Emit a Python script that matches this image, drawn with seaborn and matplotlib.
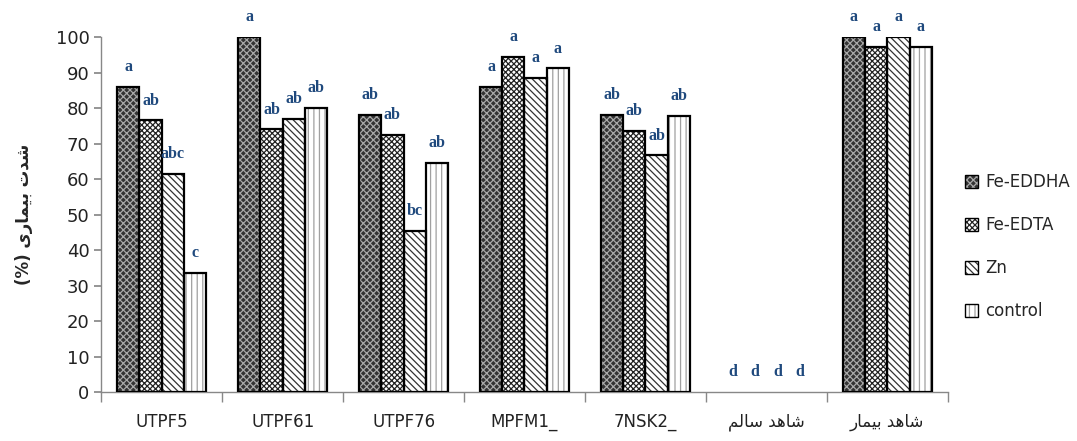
import pandas as pd
import matplotlib
matplotlib.use('Agg')
import matplotlib.pyplot as plt
from matplotlib.patches import Rectangle, Patch
import seaborn as sns

isolates = ['UTPF5', 'UTPF61', 'UTPF76', 'MPFM1_', '7NSK2_', 'شاهد سالم', 'شاهد بیمار']
treatments = ['Fe-EDDHA', 'Fe-EDTA', 'Zn', 'control']
fe_eddha = [86, 100, 78, 86, 78, 0, 100]
fe_edta = [76.5, 74, 72.4, 94.4, 73.5, 0, 97.3]
zn = [61.5, 77, 45.5, 88.5, 66.7, 0, 100]
control = [33.5, 80, 64.5, 91.2, 77.7, 0, 97.3]
letters_eddha = ['a', 'a', 'ab', 'a', 'ab', 'd', 'a']
letters_edta = ['ab', 'ab', 'ab', 'a', 'ab', 'd', 'a']
letters_zn = ['abc', 'ab', 'bc', 'a', 'ab', 'd', 'a']
letters_control = ['c', 'ab', 'ab', 'a', 'ab', 'd', 'a']
y_label = 'شدت بیماری'

# formas de apresentação árabe (matplotlib não faz shaping nem bidi)
FORMS = {  # isolada, final, inicial, medial
    'ش': ('\uFEB5', '\uFEB6', '\uFEB7', '\uFEB8'),
    'ا': ('\uFE8D', '\uFE8E', None, None),
    'ه': ('\uFEE9', '\uFEEA', '\uFEEB', '\uFEEC'),
    'د': ('\uFEA9', '\uFEAA', None, None),
    'س': ('\uFEB1', '\uFEB2', '\uFEB3', '\uFEB4'),
    'ل': ('\uFEDD', '\uFEDE', '\uFEDF', '\uFEE0'),
    'م': ('\uFEE1', '\uFEE2', '\uFEE3', '\uFEE4'),
    'ب': ('\uFE8F', '\uFE90', '\uFE91', '\uFE92'),
    'ی': ('\uFEEF', '\uFEF0', '\uFEF3', '\uFEF4'),
    'ر': ('\uFEAD', '\uFEAE', None, None),
    'ت': ('\uFE95', '\uFE96', '\uFE97', '\uFE98'),
}


def shape(txt):
    if not any(c in FORMS for c in txt):
        return txt
    out = []
    for i, c in enumerate(txt):
        if c not in FORMS:
            out.append(c)
            continue
        prev = txt[i - 1] if i > 0 else ''
        nxt = txt[i + 1] if i + 1 < len(txt) else ''
        jp = prev in FORMS and FORMS[prev][2] is not None
        jn = nxt in FORMS and FORMS[c][2] is not None
        f = FORMS[c]
        if jp and jn:
            out.append(f[3])
        elif jp:
            out.append(f[1])
        elif jn:
            out.append(f[2])
        else:
            out.append(f[0])
    return ''.join(out)[::-1]


df = pd.DataFrame({
    'isolate': isolates * 4,
    'treatment': [t for t in treatments for _ in isolates],
    'severity': fe_eddha + fe_edta + zn + control,
})
letters = [letters_eddha, letters_edta, letters_zn, letters_control]

faces = {'Fe-EDDHA': '#333333', 'Fe-EDTA': '#ffffff', 'Zn': '#ffffff', 'control': '#ffffff'}
hatches = {'Fe-EDDHA': 'xxxxx', 'Fe-EDTA': 'xxxxxx', 'Zn': '\\\\\\\\\\', 'control': '|||'}
hcolors = {'Fe-EDDHA': '#a8a8a8', 'Fe-EDTA': '#222222', 'Zn': '#333333', 'control': '#a0a0a0'}

sns.set_theme(style='white')
plt.rcParams['font.family'] = ['DejaVu Sans']
plt.rcParams['hatch.linewidth'] = 0.9

fig = plt.figure(figsize=(10.77, 4.41), dpi=100)
ax = fig.add_axes([0.094, 0.111, 0.786, 0.805])
sns.barplot(data=df, x='isolate', y='severity', hue='treatment', order=isolates,
            hue_order=treatments, palette=faces, width=0.735, saturation=1,
            legend=False, ax=ax)

for cont, t, labs in zip(ax.containers, treatments, letters):
    for p, lab in zip(cont.patches, labs):
        p.set_hatch(hatches[t])
        p.set_edgecolor(hcolors[t])
        p.set_linewidth(0)
        x, w, h = p.get_x(), p.get_width(), p.get_height()
        if h > 0:
            ax.add_patch(Rectangle((x, 0), w, h, fill=False, ec='black', lw=1.6, zorder=3))
        ax.text(x + w / 2, h + 3.3, lab, ha='center', va='bottom', color='#1f497d',
                fontsize=11.5, fontweight='bold', family=['Liberation Serif'], clip_on=False)

ax.set_ylim(0, 100)
ax.set_xlim(-0.5, len(isolates) - 0.5)
ax.set_yticks(range(0, 101, 10))
ax.set_xticks(range(len(isolates)))
ax.set_xticklabels([shape(s) for s in isolates], fontsize=12,
                   family=['Liberation Sans Narrow', 'DejaVu Sans'])
ax.set_xticks([i - 0.5 for i in range(len(isolates) + 1)], minor=True)
ax.tick_params(axis='x', which='major', length=0, pad=15, colors='#222222')
ax.tick_params(axis='x', which='minor', length=7, direction='out', color='#888888', bottom=True)
ax.tick_params(axis='y', length=5, direction='out', color='#888888', labelsize=13,
               left=True, labelcolor='#222222')
for s in ['top', 'right']:
    ax.spines[s].set_visible(False)
for s in ['left', 'bottom']:
    ax.spines[s].set_color('#888888')
    ax.spines[s].set_linewidth(1)
ax.set_xlabel('')
ax.set_ylabel('(%) ' + shape(y_label), fontsize=12, fontweight='bold', labelpad=16)

handles = [(Patch(facecolor=faces[t], hatch=hatches[t], edgecolor=hcolors[t], lw=0),
            Patch(fill=False, edgecolor='black', lw=1)) for t in treatments]
fig.legend(handles, treatments, loc='center left', bbox_to_anchor=(0.882, 0.44),
           frameon=False, fontsize=12, handlelength=0.8, handleheight=0.8,
           handletextpad=0.4, labelspacing=1.5)

fig.savefig('out.png', dpi=100)
